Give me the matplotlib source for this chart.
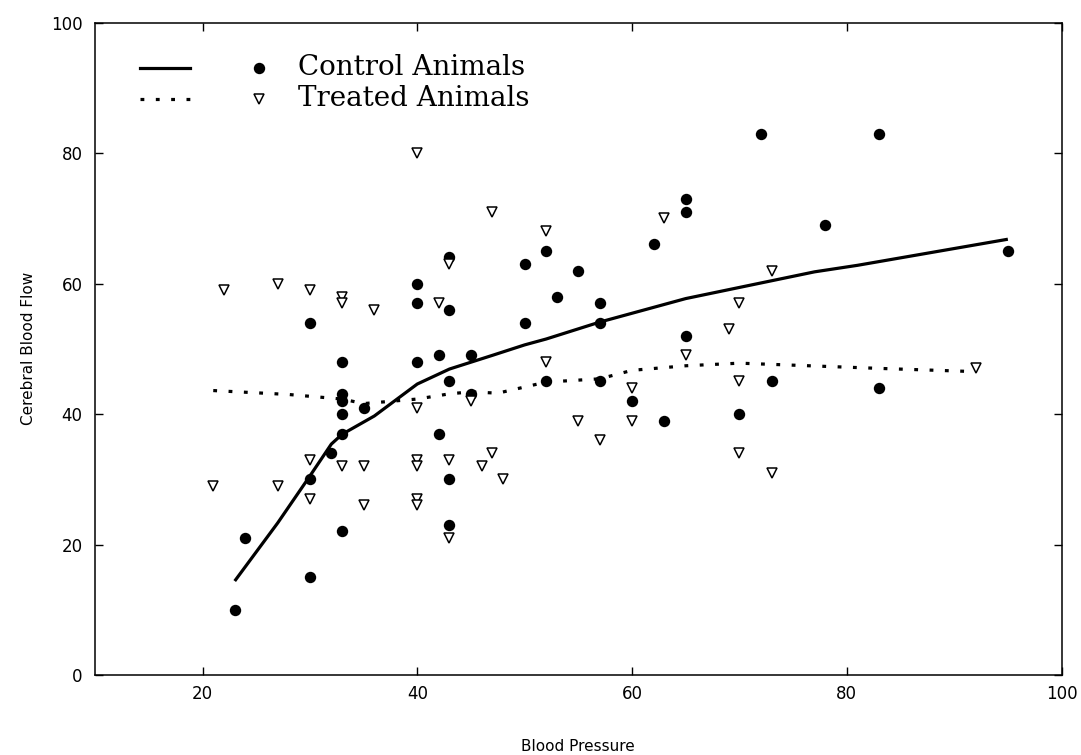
import matplotlib
matplotlib.use("Agg")
import matplotlib.pyplot as plt
from matplotlib.lines import Line2D

# ---- data ----
control_x = [23, 24, 30, 30, 30, 32, 33, 33, 33, 33, 33, 33, 35, 40, 40, 40,
             42, 42, 43, 43, 43, 43, 43, 45, 45, 50, 50, 52, 52, 53, 55, 57,
             57, 57, 60, 62, 63, 65, 65, 65, 70, 72, 73, 78, 83, 83, 95]
control_y = [10, 21, 54, 30, 15, 34, 48, 43, 42, 40, 37, 22, 41, 60, 57, 48,
             49, 37, 64, 56, 45, 30, 23, 49, 43, 63, 54, 65, 45, 58, 62, 57,
             54, 45, 42, 66, 39, 73, 71, 52, 40, 83, 45, 69, 83, 44, 65]

treated_x = [21, 22, 27, 27, 30, 30, 30, 33, 33, 33, 35, 35, 36, 40, 40, 40,
             40, 40, 40, 42, 43, 43, 43, 45, 46, 47, 47, 48, 52, 52, 55, 57,
             60, 60, 63, 65, 69, 70, 70, 70, 73, 73, 92]
treated_y = [29, 59, 60, 29, 59, 33, 27, 58, 57, 32, 32, 26, 56, 80, 41, 33,
             32, 27, 26, 57, 63, 33, 21, 42, 32, 34, 71, 30, 68, 48, 39, 36,
             44, 39, 70, 49, 53, 57, 45, 34, 62, 31, 47]

control_fit_x = [23, 27, 30, 32, 33, 36, 40, 43, 47, 50, 52, 57, 65, 77, 81, 95]
control_fit_y = [14.4, 23.3, 30.5, 35.4, 36.9, 39.7, 44.6, 46.9, 49.0, 50.6,
                 51.5, 54.1, 57.7, 61.8, 62.8, 66.8]

treated_fit_x = [21, 28, 33, 35, 40, 43, 45, 47.5, 52, 57, 60, 65, 70, 76.5, 83, 92]
treated_fit_y = [43.6, 43.0, 42.3, 41.6, 42.3, 43.1, 43.4, 43.2, 44.9, 45.4,
                 46.7, 47.4, 47.8, 47.4, 47.0, 46.5]

x_ticks = [20, 40, 60, 80, 100]
y_ticks = [0, 20, 40, 60, 80, 100]
legend_labels = ["Control Animals", "Treated Animals"]

# ---- figure ----
fig = plt.figure(figsize=(10.81, 7.55), dpi=100)
ax = fig.add_axes([0.088, 0.106, 0.894, 0.864])

dot_style = (0, (1.2, 3.6))

ax.plot(control_fit_x, control_fit_y, color="black", lw=2.3, solid_capstyle="butt")
ax.plot(treated_fit_x, treated_fit_y, color="black", lw=2.3, linestyle=dot_style)

ax.plot(control_x, control_y, linestyle="none", marker="o", markersize=8.2,
        color="black", markeredgewidth=0)
ax.plot(treated_x, treated_y, linestyle="none", marker="v", markersize=6.8,
        markerfacecolor="white", markeredgecolor="black", markeredgewidth=1.1)

ax.set_xlim(10, 100)
ax.set_ylim(0, 100)
ax.set_xticks(x_ticks)
ax.set_yticks(y_ticks)
ax.tick_params(direction="in", length=6, width=1, top=True, right=True,
               labelsize=12)
ax.tick_params(axis="x", pad=7)
ax.tick_params(axis="y", pad=9)
for sp in ax.spines.values():
    sp.set_linewidth(1.1)

ax.set_xlabel("Blood Pressure", fontsize=11, labelpad=26)
ax.set_ylabel("Cerebral Blood Flow", fontsize=11, labelpad=11)

# ---- legend (drawn in axes coordinates) ----
rows = [0.931, 0.883]
styles = ["-", dot_style]
markers = [dict(marker="o", markersize=8.2, color="black", markeredgewidth=0),
           dict(marker="v", markersize=6.8, markerfacecolor="white",
                markeredgecolor="black", markeredgewidth=1.1)]
for yy, ls, mk, lab in zip(rows, styles, markers, legend_labels):
    ax.add_line(Line2D([0.0465, 0.098], [yy, yy], transform=ax.transAxes,
                       color="black", lw=2.3, linestyle=ls))
    ax.add_line(Line2D([0.170], [yy], transform=ax.transAxes, linestyle="none", **mk))
    ax.text(0.210, yy, lab, transform=ax.transAxes, va="center", ha="left",
            fontsize=20, family="DejaVu Serif")

fig.savefig("out.png", dpi=100)
